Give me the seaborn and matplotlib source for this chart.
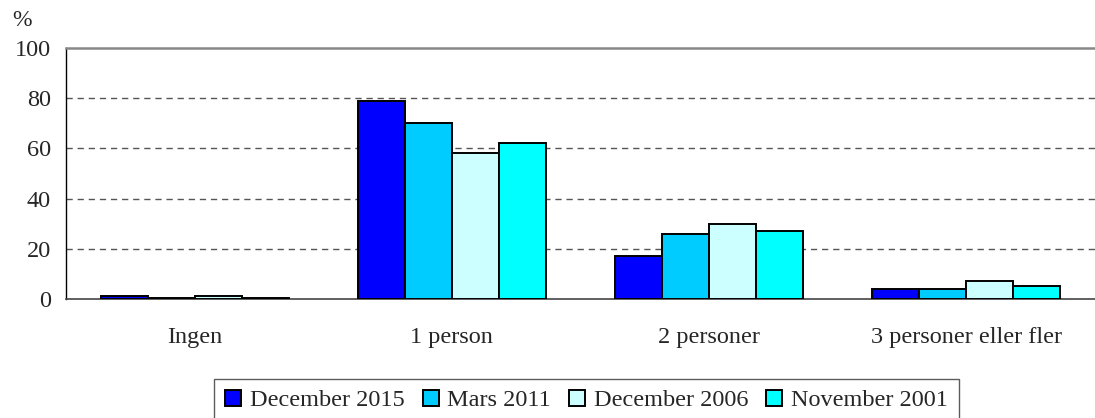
import pandas as pd
import seaborn as sns
import matplotlib.pyplot as plt


# ---------------------------------------------------------------------------
# Data
# ---------------------------------------------------------------------------

categories = ["Ingen", "1 person", "2 personer", "3 personer eller fler"]

surveys = ["December 2015", "Mars 2011", "December 2006", "November 2001"]

dec_2015 = [1, 79, 17, 4]
mars_2011 = [0.5, 70, 26, 4]
dec_2006 = [1, 58, 30, 7]
nov_2001 = [0.5, 62, 27, 5]

y_ticks = [0, 20, 40, 60, 80, 100]

colors = ["#0000FF", "#00CCFF", "#CCFFFF", "#00FFFF"]


# ---------------------------------------------------------------------------
# Long table for seaborn
# ---------------------------------------------------------------------------

rows = []
for survey, values in zip(surveys, [dec_2015, mars_2011, dec_2006, nov_2001]):
    for cat, val in zip(categories, values):
        rows.append({"kategori": cat, "undersokning": survey, "andel": val})

df = pd.DataFrame(rows)


# ---------------------------------------------------------------------------
# Plot
# ---------------------------------------------------------------------------

sns.set_style("white")
plt.rcParams["font.family"] = ["Liberation Serif", "DejaVu Serif"]
plt.rcParams["font.size"] = 17.5

fig = plt.figure(figsize=(10.95, 4.18), dpi=100)
ax = fig.add_axes([66 / 1095, 119 / 418, 1 - 66 / 1095, 251 / 418])

sns.barplot(
    data=df, x="kategori", y="andel", hue="undersokning",
    order=categories, hue_order=surveys,
    palette=dict(zip(surveys, colors)), saturation=1,
    width=0.73, gap=0, edgecolor="black", linewidth=1.4,
    ax=ax, zorder=3,
)

# grid lines (dashed) and axis limits
ax.set_ylim(0, 100)
ax.set_xlim(-0.5, 3.485)
ax.set_yticks(y_ticks)
for y in y_ticks[1:-1]:
    ax.axhline(y, color="#555555", linestyle=(0, (4.5, 3.5)), linewidth=1.0, zorder=1)

# spines
ax.spines["right"].set_visible(False)
ax.spines["top"].set_color("#888888")
ax.spines["top"].set_linewidth(1.8)
ax.spines["left"].set_color("black")
ax.spines["left"].set_linewidth(1.0)
ax.spines["bottom"].set_color("#444444")
ax.spines["bottom"].set_linewidth(1.2)

# x ticks: marks between groups, labels at centres
ax.set_xticks([-0.5, 0.5, 1.5, 2.5, 3.5])
ax.set_xticklabels([])
ax.set_xticks(range(len(categories)), minor=True)
ax.set_xticklabels(categories, minor=True)
ax.tick_params(axis="x", which="major", direction="out", length=7, width=1, color="#444444")
ax.tick_params(axis="x", which="minor", length=0, pad=20, labelsize=17.5)
ax.tick_params(axis="y", direction="out", length=7, width=1, color="black", pad=4, labelsize=17.5)

ax.set_xlabel("")
ax.set_ylabel("")

fig.text(22 / 1095, 1 - 20 / 418, "%", ha="center", va="center", fontsize=17)

# legend
handles, labels = ax.get_legend_handles_labels()
ax.get_legend().remove()
leg = fig.legend(
    handles, labels, loc="upper center", bbox_to_anchor=(586.5 / 1095, 1 - 379 / 418),
    ncol=4, frameon=True, fancybox=False, fontsize=17.5,
    handlelength=0.66, handleheight=0.62, handletextpad=0.35,
    columnspacing=0.75, borderpad=0.45, borderaxespad=0,
)
leg.get_frame().set_edgecolor("#333333")
leg.get_frame().set_linewidth(1.0)

fig.savefig("out.png", dpi=100)
